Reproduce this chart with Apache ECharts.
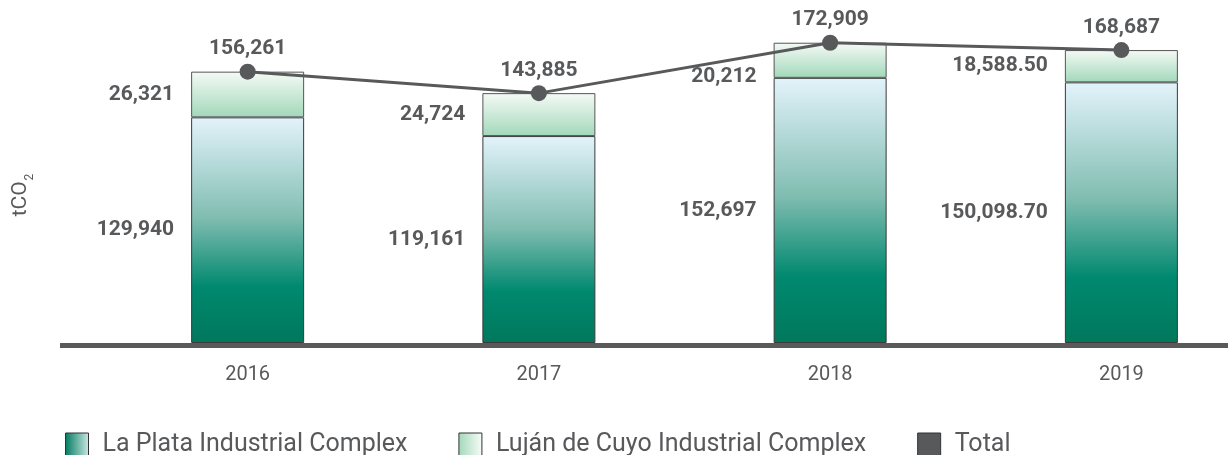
<!DOCTYPE html>
<html>
<head>
<meta charset="utf-8">
<script src="https://cdn.jsdelivr.net/npm/echarts@6/dist/echarts.min.js"></script>
<style>
  html, body { margin: 0; padding: 0; background: #fff; overflow: hidden; }
  /* chart is a bit wider than the window: the last column runs past the right edge in the original */
  #chart { width: 1267px; height: 455px; }
</style>
</head>
<body>
<div id="chart"></div>
<script>
// data
const years = ['2016', '2017', '2018', '2019'];
const laPlata = [129940, 119161, 152697, 150098.7];
const lujan = [26321, 24724, 20212, 18588.5];
const totals = [156261, 143885, 172909, 168687];

const grey = '#58595b';
const font = 'Roboto';

function fmt(v) {
  return Number.isInteger(v)
    ? v.toLocaleString('en-US')
    : v.toLocaleString('en-US', { minimumFractionDigits: 2 });
}

const chart = echarts.init(document.getElementById('chart'));

const laPlataFill = new echarts.graphic.LinearGradient(0, 0, 0, 1, [
  { offset: 0, color: '#e3f3fb' },
  { offset: 0.45, color: '#7fbcb0' },
  { offset: 0.75, color: '#00896f' },
  { offset: 1, color: '#00785c' }
]);
const lujanFill = new echarts.graphic.LinearGradient(0, 0, 0, 1, [
  { offset: 0, color: '#f5faf5' },
  { offset: 1, color: '#a2d8ba' }
]);

const labelStyle = {
  show: true,
  position: 'left',
  distance: 17,
  color: grey,
  fontFamily: font,
  fontWeight: 'bold',
  fontSize: 21,
  formatter: p => fmt(p.value)
};

// 2018 label sits a little lower in the original, below the line
const lujanData = lujan.map((v, i) => i === 2 ? { value: v, label: { offset: [0, 16] } } : v);

const option = {
  animation: false,
  grid: { left: 102, right: 0, top: 20, bottom: 112 },
  xAxis: {
    type: 'category',
    data: years,
    axisLine: { show: false },
    axisTick: { show: false },
    axisLabel: { color: grey, fontFamily: font, fontSize: 20, margin: 22 }
  },
  yAxis: {
    type: 'value',
    min: 0,
    max: 186000,
    show: false
  },
  legend: {
    left: 60,
    top: 427,
    itemWidth: 23,
    itemHeight: 23,
    itemGap: 51,
    textStyle: { color: grey, fontFamily: font, fontSize: 25, padding: [0, 0, 0, 9] },
    data: [
      {
        name: 'La Plata Industrial Complex',
        icon: 'rect',
        itemStyle: {
          color: new echarts.graphic.LinearGradient(0, 0, 1, 0, [
            { offset: 0, color: '#007a60' },
            { offset: 1, color: '#cde8e4' }
          ]),
          borderColor: '#333', borderWidth: 1
        }
      },
      {
        name: 'Luján de Cuyo Industrial Complex',
        icon: 'rect',
        itemStyle: {
          color: new echarts.graphic.LinearGradient(0, 0, 1, 0, [
            { offset: 0, color: '#a2d8ba' },
            { offset: 1, color: '#f8fcf8' }
          ]),
          borderColor: '#333', borderWidth: 1
        }
      },
      {
        name: 'Total',
        icon: 'rect',
        itemStyle: { color: grey, borderColor: '#333', borderWidth: 1 }
      }
    ]
  },
  graphic: [
    {
      type: 'rect',
      left: 60, top: 343,
      shape: { width: 1168, height: 5 },
      style: { fill: '#5a5a5a' },
      z: 10
    },
    {
      type: 'text',
      x: 21, y: 195,
      rotation: Math.PI / 2,
      style: {
        text: '{a|tCO}{s|2}',
        align: 'center',
        verticalAlign: 'middle',
        rich: {
          a: { fontFamily: font, fontSize: 21, fill: grey, verticalAlign: 'bottom' },
          s: { fontFamily: font, fontSize: 12, fill: grey, verticalAlign: 'bottom', padding: [0, 0, -4, 1] }
        }
      }
    }
  ],
  series: [
    {
      name: 'La Plata Industrial Complex',
      type: 'bar',
      stack: 'total',
      barWidth: 113,
      data: laPlata,
      itemStyle: { color: laPlataFill, borderColor: '#3a3a3a', borderWidth: 1 },
      label: labelStyle
    },
    {
      name: 'Luján de Cuyo Industrial Complex',
      type: 'bar',
      stack: 'total',
      barWidth: 113,
      data: lujanData,
      itemStyle: { color: lujanFill, borderColor: '#555', borderWidth: 1 },
      label: labelStyle
    },
    {
      name: 'Total',
      type: 'line',
      data: totals,
      z: 5,
      symbol: 'circle',
      symbolSize: 16,
      lineStyle: { color: grey, width: 3 },
      itemStyle: { color: grey },
      label: {
        show: true,
        position: 'top',
        distance: 4,
        color: grey,
        fontFamily: font,
        fontWeight: 'bold',
        fontSize: 21,
        formatter: p => fmt(p.value)
      }
    }
  ]
};

chart.setOption(option);
</script>
</body>
</html>
